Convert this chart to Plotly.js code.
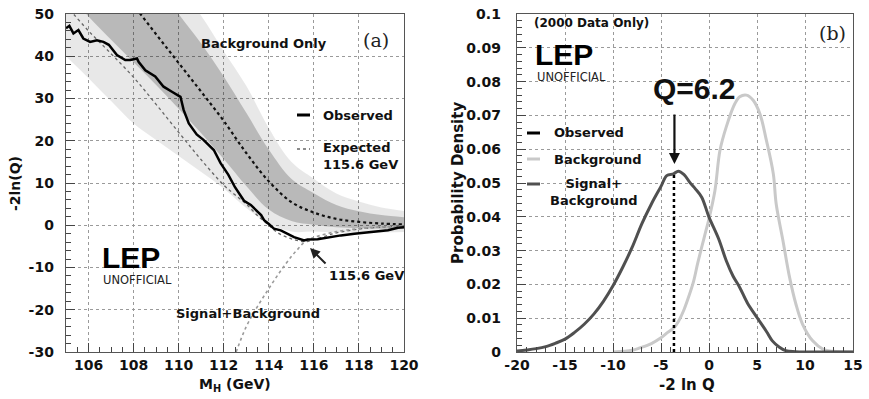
<!DOCTYPE html>
<html><head><meta charset="utf-8">
<script src="https://cdn.plot.ly/plotly-3.0.1.min.js"></script>
<style>html,body{margin:0;padding:0;background:#fff}#c{width:869px;height:399px}</style>
</head><body><div id="c"></div>
<script>
// ---------- Panel (a): -2ln(Q) vs M_H ----------
const bandMass = [105,106,107,108,109,110,111,112,113,114,115,116,117,118,119,120];
const bkgExpected = [72.6,65.8,58.9,52.1,45.2,38.4,31.6,24.7,17.1,10.4,5.5,3.0,1.5,0.8,0.4,0.2];
const band1Lo = [55.6,49.4,43.9,38.6,33.2,27.6,21.8,15.7,9.3,3.7,1.0,0.1,-0.5,-0.7,-0.8,-0.8];
const band1Hi = [84,77.8,70.9,64.1,57.2,50,43,35.2,26.6,17.9,11,7.6,4.8,3.3,2.4,1.9];
const band2Lo = [40,34.8,29.4,24.1,20.2,16.4,12.6,8.7,4.1,0.4,-1.5,-1.5,-1.7,-1.8,-1.7,-1.6];
const band2Hi = [100,94,86,77,66,56.4,49.6,41.2,33,23,15,11,7.5,5.6,4.2,3.4];

const expMass = [105,105.33,106,107,108,109,110,111,112,112.5,113,113.5,114,114.4,115,115.6,116,116.6,117,118,119,120];
const expSB   = [52,50,46,40.6,35,28.6,22,15.5,9.5,7.2,5.0,2.3,0,-1.8,-3.2,-3.9,-3.4,-2.4,-1.8,-0.9,-0.45,-0.2];

const obsMass = [105.0,105.15,105.33,105.55,105.77,106.07,106.37,106.66,106.9,107.26,107.63,107.85,108.0,108.15,108.22,108.52,108.96,109.33,109.7,110.08,110.22,110.45,110.8,111.1,111.56,111.86,112.2,112.5,112.9,113.2,113.66,113.79,114.0,114.23,114.53,114.98,115.12,115.57,115.72,116.17,116.6,117.2,117.8,118.54,119.29,119.73,120.0];
const obsVal  = [46.6,47.2,45.4,46.2,44.2,43.4,43.8,43.4,42.7,40.3,39.1,39.1,39.3,39.5,38.7,36.7,35.2,32.8,31.6,30.4,27.3,24.1,21.5,20.2,17.8,14.7,12.0,9.0,5.8,4.8,2.4,1.2,0.3,-0.8,-1.2,-2.4,-2.8,-3.6,-3.4,-3.3,-2.9,-2.4,-2.0,-1.6,-1.2,-0.6,-0.5];

const sbMass = [112.55,113,113.5,114,114.5,115,115.3,115.6,116,117,118,119,120];
const sbVal  = [-30,-24,-19.2,-15,-11,-7.4,-5.6,-3.9,-2.9,-1.5,-0.8,-0.4,-0.2];

const aTickVals = [-30,-20,-10,0,10,20,30,40,50];
const aTickText = ["-30","-20","-10","0","10","20","30","40","50"];
const aXTicks = [106,108,110,112,114,116,118,120];

// ---------- Panel (b): probability densities ----------
const qSB = [-20,-19,-18,-17,-16,-15,-14,-13,-12,-11,-10,-9,-8,-7,-6,-5,-4.4,-3.7,-3.2,-2.6,-2,-1.4,-0.76,0,1,1.8,2.5,3.2,4,5,6,6.6,7.3,8,9,10,12,15];
const pSB = [0.0003,0.0006,0.001,0.0016,0.0026,0.0038,0.0058,0.0082,0.0112,0.015,0.0196,0.025,0.031,0.0379,0.0438,0.049,0.0522,0.0527,0.0535,0.0525,0.0502,0.0482,0.0458,0.0399,0.0335,0.027,0.0225,0.0191,0.0145,0.0102,0.006,0.0033,0.0015,0.0004,0.0001,0,0,0];
const qB = [-10,-8,-7.2,-6,-5,-4.3,-3.65,-3.1,-2.65,-2.1,-1.6,-1.2,-0.76,-0.4,0,0.62,1.14,1.8,2.7,3.2,3.9,4.6,5.3,5.98,6.7,7.0,7.7,8.4,9.05,9.75,10.8,11.9,12.9,15];
const pB = [0,0.0005,0.0012,0.0025,0.0042,0.0058,0.0072,0.0095,0.0122,0.0165,0.021,0.026,0.031,0.035,0.0394,0.0478,0.0596,0.0666,0.0735,0.0755,0.076,0.0745,0.0705,0.0626,0.0527,0.0438,0.033,0.022,0.0142,0.0082,0.0033,0.0008,0.0002,0];
const obsQ = [-3.65,-3.65];
const obsP = [0,0.0528];
const bXTicks = [-20,-15,-10,-5,0,5,10,15];
const bXText = ["-20","-15","-10","-5","0","5","10","15"];
const bYTicks = [0,0.01,0.02,0.03,0.04,0.05,0.06,0.07,0.08,0.09,0.1];

const W=869,H=399;
const px = v=>v/W, py = v=>1-v/H;
const FONT = "DejaVu Sans, Liberation Sans, Arial";
const bold = (s,c)=>({family:FONT,size:s,color:c||'#111',weight:'bold'});
const note = (text,x,y,font,xanchor,extra)=>Object.assign({text,xref:'paper',yref:'paper',x:px(x),y:py(y),
  xanchor:xanchor||'center',yanchor:'middle',showarrow:false,font},extra||{});

const traces = [
  {x:bandMass,y:band2Lo,xaxis:'x',yaxis:'y',mode:'lines',line:{width:0,shape:'spline'},hoverinfo:'skip',showlegend:false},
  {x:bandMass,y:band2Hi,xaxis:'x',yaxis:'y',mode:'lines',line:{width:0,shape:'spline'},fill:'tonexty',fillcolor:'rgba(0,0,0,0.09)',showlegend:false},
  {x:bandMass,y:band1Lo,xaxis:'x',yaxis:'y',mode:'lines',line:{width:0,shape:'spline'},showlegend:false},
  {x:bandMass,y:band1Hi,xaxis:'x',yaxis:'y',mode:'lines',line:{width:0,shape:'spline'},fill:'tonexty',fillcolor:'rgba(0,0,0,0.2)',showlegend:false},
  {x:bandMass,y:bkgExpected,xaxis:'x',yaxis:'y',mode:'lines',line:{color:'#111',width:2.2,dash:'dot',shape:'spline'},showlegend:false},
  {x:expMass,y:expSB,xaxis:'x',yaxis:'y',mode:'lines',line:{color:'#666',width:1.3,dash:'dot',shape:'spline'},showlegend:false},
  {x:sbMass,y:sbVal,xaxis:'x',yaxis:'y',mode:'lines',line:{color:'#9a9a9a',width:1.6,dash:'dot',shape:'spline'},showlegend:false},
  {x:obsMass,y:obsVal,xaxis:'x',yaxis:'y',mode:'lines',line:{color:'#000',width:2.5},showlegend:false},

  {x:qB,y:pB,xaxis:'x2',yaxis:'y2',mode:'lines',line:{color:'#c9c9c9',width:3,shape:'spline'},showlegend:false},
  {x:qSB,y:pSB,xaxis:'x2',yaxis:'y2',mode:'lines',line:{color:'#505050',width:3,shape:'spline'},showlegend:false},
  {x:obsQ,y:obsP,xaxis:'x2',yaxis:'y2',mode:'lines',line:{color:'#000',width:2.5,dash:'dot'},showlegend:false}
];

const axBase = {showline:true,mirror:true,linecolor:'#555',linewidth:1.3,ticks:'inside',ticklen:9,tickcolor:'#444',
  showgrid:true,gridcolor:'#9a9a9a',griddash:'dot',gridwidth:1,zeroline:false,tickfont:bold(14),fixedrange:true};

const LEPFONT = {family:'Liberation Sans, Arial',size:30,color:'#000',weight:'bold'};
const UNOFF = {family:FONT,size:11.5,color:'#222'};
const SERIF = {family:'DejaVu Serif, Liberation Serif, serif',size:19,color:'#222'};

const layout = {
  width:W,height:H,margin:{l:0,r:0,t:0,b:0},paper_bgcolor:'#fff',plot_bgcolor:'#fff',showlegend:false,
  xaxis:Object.assign({},axBase,{domain:[px(66),px(404)],range:[105,120],tickmode:'array',tickvals:aXTicks,anchor:'y',
    ticklabelstandoff:0,minor:{tick0:105,dtick:0.5,ticks:'inside',ticklen:5,tickcolor:'#444',showgrid:false}}),
  yaxis:Object.assign({},axBase,{domain:[py(352),py(14)],range:[-30,50],tickmode:'array',tickvals:aTickVals,ticktext:aTickText,anchor:'x',
    ticklabelstandoff:8,minor:{tick0:0,dtick:2,ticks:'inside',ticklen:5,tickcolor:'#444',showgrid:false}}),
  xaxis2:Object.assign({},axBase,{domain:[px(517),px(853)],range:[-20,15],tickmode:'array',tickvals:bXTicks,ticktext:bXText,anchor:'y2',
    ticklabelstandoff:0,minor:{tick0:0,dtick:1,ticks:'inside',ticklen:5,tickcolor:'#444',showgrid:false}}),
  yaxis2:Object.assign({},axBase,{domain:[py(352),py(14)],range:[0,0.1],tickmode:'array',tickvals:bYTicks,anchor:'x2',
    ticklabelstandoff:12,minor:{tick0:0,dtick:0.002,ticks:'inside',ticklen:5,tickcolor:'#444',showgrid:false}}),
  shapes:[
    {type:'line',xref:'paper',yref:'paper',x0:px(297),x1:px(310),y0:py(115),y1:py(115),line:{color:'#000',width:3}},
    {type:'line',xref:'paper',yref:'paper',x0:px(297),x1:px(310),y0:py(149),y1:py(149),line:{color:'#666',width:1.3,dash:'dot'}},
    {type:'line',xref:'paper',yref:'paper',x0:px(527),x1:px(540),y0:py(133),y1:py(133),line:{color:'#000',width:3}},
    {type:'line',xref:'paper',yref:'paper',x0:px(527),x1:px(540),y0:py(159),y1:py(159),line:{color:'#c9c9c9',width:3}},
    {type:'line',xref:'paper',yref:'paper',x0:px(527),x1:px(540),y0:py(184),y1:py(184),line:{color:'#505050',width:3}}
  ],
  annotations:[
    // axis titles
    note('-2ln(Q)',15,183,bold(14),'center',{textangle:-90}),
    note('M<sub>H</sub> (GeV)',235,385,bold(14)),
    note('Probability Density',458,183,bold(15),'center',{textangle:-90}),
    note('-2 ln Q',687,385,bold(15)),
    // panel a
    note('Background Only',264,43,bold(13)),
    note('(a)',376,40,SERIF),
    note('Observed',321,115,bold(13),'left'),
    note('Expected<br>115.6 GeV',321,156,bold(13),'left',{align:'left'}),
    note('LEP',100,257,LEPFONT,'left'),
    note('UNOFFICIAL',101,280,UNOFF,'left'),
    note('Signal+Background',174,313,bold(13),'left'),
    note('115.6 GeV',327,275,bold(13),'left'),
    {text:'',xref:'x',yref:'y',x:115.83,y:-5.4,ax:17,ay:17,showarrow:true,arrowhead:2,arrowsize:1,arrowwidth:2,arrowcolor:'#222'},
    // panel b
    note('(2000 Data Only)',532,23,bold(12),'left'),
    note('(b)',832,33,SERIF),
    note('LEP',533,54,LEPFONT,'left'),
    note('UNOFFICIAL',535,77,UNOFF,'left'),
    note('Observed',552,133,bold(13),'left'),
    note('Background',552,159,bold(13),'left'),
    note('Signal+<br>Background',594,192,bold(13),'center',{align:'center'}),
    note('Q=6.2',694,88,{family:'Liberation Sans, Arial',size:30,color:'#111',weight:'bold'}),
    {text:'',xref:'x2',yref:'y2',x:-3.6,y:0.0556,ax:0,ay:-51,showarrow:true,arrowhead:2,arrowsize:1,arrowwidth:2.2,arrowcolor:'#111'}
  ]
};
Plotly.newPlot('c',traces,layout,{displayModeBar:false,staticPlot:true});
</script></body></html>
